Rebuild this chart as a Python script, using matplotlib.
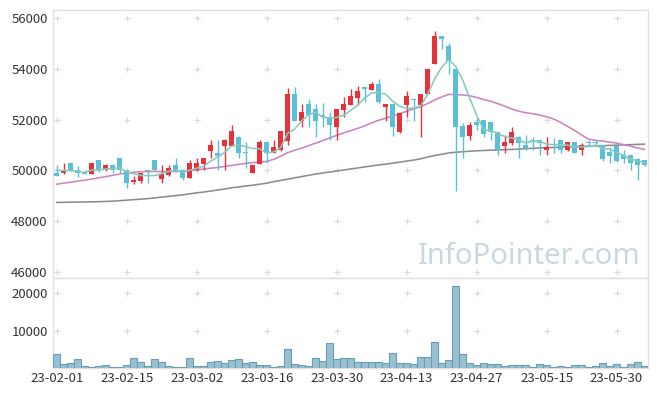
import matplotlib
matplotlib.use("Agg")
import matplotlib.pyplot as plt
import numpy as np

plt.rcParams['font.family'] = ['Noto Sans CJK KR', 'DejaVu Sans']

# ---------------- data ----------------
dates = ["23-02-01","23-02-02","23-02-03","23-02-06","23-02-07","23-02-08","23-02-09","23-02-10",
         "23-02-13","23-02-14","23-02-15","23-02-16","23-02-17","23-02-20","23-02-21","23-02-22",
         "23-02-23","23-02-24","23-02-27","23-02-28","23-03-02","23-03-03","23-03-06","23-03-07",
         "23-03-08","23-03-09","23-03-10","23-03-13","23-03-14","23-03-15","23-03-16","23-03-17",
         "23-03-20","23-03-21","23-03-22","23-03-23","23-03-24","23-03-27","23-03-28","23-03-29",
         "23-03-30","23-03-31","23-04-03","23-04-04","23-04-05","23-04-06","23-04-07","23-04-10",
         "23-04-11","23-04-12","23-04-13","23-04-14","23-04-17","23-04-18","23-04-19","23-04-20",
         "23-04-21","23-04-24","23-04-25","23-04-26","23-04-27","23-04-28","23-05-02","23-05-03",
         "23-05-04","23-05-08","23-05-09","23-05-10","23-05-11","23-05-12","23-05-15","23-05-16",
         "23-05-17","23-05-18","23-05-19","23-05-22","23-05-23","23-05-24","23-05-25","23-05-26",
         "23-05-30","23-05-31","23-06-01","23-06-02","23-06-05"]

opens = [49920, 49900, 50290, 50030, 49960, 49880, 50420, 50000, 50225, 50500,
         50000, 49530, 49590, 50020, 50420, 49670, 49830, 50225, 50030, 49720,
         50000, 50265, 50780, 50690, 50975, 50975, 51340, 50700, 49920, 50265,
         51140, 50690, 50790, 51180, 53030, 51970, 52640, 52430, 52200, 52100,
         51710, 52390, 52590, 52860, 53290, 53180, 53420, 52490, 52630, 51500,
         52590, 52830, 52590, 53030, 54200, 55310, 54920, 54010, 51740, 51380,
         51920, 52000, 51920, 51500, 50975, 51100, 51320, 51010, 51210, 51210,
         50790, 51050, 51210, 50790, 51130, 50790, 51120, 51110, 51000, 50710,
         50950, 50620, 50620, 50450, 50420]
highs = [50220, 50290, 50300, 50160, 50000, 50310, 50430, 50240, 50240, 50510,
         50010, 49800, 49910, 50030, 50430, 50225, 50200, 50490, 50040, 50420,
         50490, 50500, 51210, 51210, 51230, 51800, 51350, 51140, 50230, 51210,
         51150, 51210, 51540, 53250, 53290, 52630, 52830, 52630, 52660, 52290,
         52430, 52880, 53210, 53340, 53290, 53490, 53610, 52640, 52640, 52270,
         53120, 52840, 53030, 54010, 55510, 55310, 55030, 54010, 51890, 51930,
         52070, 52000, 51930, 51500, 51410, 51710, 51370, 51410, 51320, 51220,
         51320, 51280, 51210, 51140, 51140, 51100, 51210, 51200, 51010, 50920,
         50960, 50820, 50630, 50490, 50430]
lows = [49800, 49880, 49990, 49760, 49870, 49870, 49940, 49990, 49900, 49900,
        49300, 49460, 49500, 49500, 49990, 49500, 49800, 49930, 49630, 49710,
        49990, 50030, 50490, 50030, 50030, 50960, 50490, 50100, 49900, 50250,
        50290, 50680, 50780, 51010, 51960, 51710, 51710, 51320, 51710, 51210,
        51210, 52100, 52580, 52590, 52700, 53170, 52680, 51970, 51380, 51490,
        52100, 51970, 51320, 53020, 54190, 54800, 53800, 49190, 50490, 51210,
        51610, 51310, 51210, 50620, 50690, 51010, 50490, 50820, 50820, 50620,
        50620, 50700, 50690, 50780, 50680, 50620, 51000, 51000, 50390, 50310,
        50330, 50290, 50000, 49630, 50190]
closes = [49800, 50030, 50000, 49900, 49880, 50300, 50000, 50225, 50000, 50000,
          49490, 49630, 49900, 49980, 50000, 49870, 50100, 50030, 49720, 50300,
          50300, 50490, 51010, 50580, 51210, 51540, 50690, 50680, 50225, 51140,
          50690, 50940, 51540, 53030, 51970, 52310, 52180, 51970, 52100, 51780,
          52430, 52630, 52920, 53120, 53200, 53420, 52690, 52630, 51700, 52260,
          52920, 52790, 53030, 54010, 55310, 55200, 54330, 51710, 51320, 51790,
          51790, 51450, 51500, 50820, 51120, 51510, 51100, 50880, 51180, 51100,
          50930, 51020, 50820, 51130, 50690, 51000, 51090, 51090, 50470, 50580,
          50390, 50470, 50290, 50200, 50200]
volumes = [3710, 995, 1270, 2350, 450, 180, 450, 720, 180, 180,
           720, 2620, 1540, 450, 2350, 1540, 450, 180, 180, 2620,
           450, 450, 1540, 1810, 1270, 2080, 2350, 1270, 1540, 720,
           720, 180, 450, 5070, 995, 720, 450, 2620, 1810, 6690,
           2350, 2620, 2620, 1540, 1540, 1540, 1540, 1270, 3980, 1270,
           1270, 995, 2890, 2890, 6960, 1270, 2080, 21890, 3710, 1270,
           720, 1270, 995, 995, 450, 720, 720, 720, 180, 995,
           720, 180, 450, 180, 720, 720, 180, 450, 1270, 450,
           995, 180, 995, 1540, 450]
prior_closes = [50100, 50000, 50050, 50100]   # closes before the window (for the 5-day MA)
ma20 = [49460, 49500, 49540, 49580, 49620, 49660, 49710, 49760, 49810, 49860,
        49900, 49930, 49950, 49960, 49960, 49960, 49960, 49960, 49970, 49990,
        50030, 50060, 50090, 50120, 50160, 50200, 50240, 50280, 50310, 50330,
        50360, 50440, 50560, 50700, 50800, 50880, 50980, 51080, 51180, 51280,
        51390, 51480, 51570, 51660, 51760, 51880, 51980, 52060, 52150, 52230,
        52340, 52430, 52520, 52640, 52780, 52900, 53000, 53000, 52980, 52950,
        52880, 52800, 52730, 52640, 52540, 52430, 52340, 52280, 52240, 52190,
        52120, 52030, 51900, 51740, 51580, 51400, 51240, 51190, 51160, 51120,
        51080, 51020, 50960, 50890, 50830]
ma60 = [48740, 48745, 48750, 48755, 48760, 48765, 48770, 48780, 48790, 48810,
        48830, 48850, 48870, 48890, 48920, 48950, 48980, 49010, 49040, 49080,
        49120, 49150, 49190, 49230, 49270, 49320, 49350, 49390, 49420, 49460,
        49500, 49560, 49610, 49660, 49710, 49760, 49810, 49860, 49900, 49940,
        49980, 50020, 50060, 50100, 50140, 50180, 50220, 50250, 50290, 50330,
        50370, 50410, 50460, 50530, 50590, 50640, 50690, 50720, 50740, 50760,
        50775, 50790, 50800, 50810, 50820, 50830, 50845, 50860, 50875, 50890,
        50900, 50910, 50920, 50930, 50940, 50950, 50960, 50970, 50980, 50990,
        51000, 51010, 51020, 51030, 51040]
price_ticks = [46000, 48000, 50000, 52000, 54000, 56000]
volume_ticks = [10000, 20000]
label_step = 10

# ---------------- figure ----------------
UP = '#e8323a'
DOWN = '#5cbfd8'
GRID = '#d9d9d9'
FRAME = '#e0e0e0'
TXT = '#333333'

fig = plt.figure(figsize=(6.57, 3.96), dpi=100)
ax = fig.add_axes([53.3/657, 1-278/396, (648-53.3)/657, (278-10)/396])
axv = fig.add_axes([53.3/657, 1-368/396, (648-53.3)/657, (368-278)/396], sharex=ax)

n = len(dates)
x = np.arange(n)
o = np.array(opens); h = np.array(highs); l = np.array(lows); c = np.array(closes)
up = c >= o
col = np.where(up, UP, DOWN)

# moving averages
allc = np.array(prior_closes + closes, dtype=float)
ma5 = np.convolve(allc, np.ones(5)/5, mode='valid')

ax.plot(x, ma60, color='#8c8c8c', lw=1.15, zorder=2)
ax.plot(x, ma20, color='#c985c0', lw=1.15, zorder=2)

ax.vlines(x, l, h, colors=col, lw=1.0, zorder=3)
body_bottom = np.minimum(o, c)
body_h = np.maximum(np.abs(c - o), 35)
ax.bar(x, body_h, bottom=body_bottom, width=0.72, color=col, edgecolor='none', zorder=4)
ax.plot(x, ma5, color='#84cbbd', lw=1.15, zorder=5)

ax.set_ylim(45760, 56330)
ax.set_xlim(-0.5, n - 0.5)
ax.set_yticks(price_ticks)
ax.set_yticklabels([str(v) for v in price_ticks])

axv.bar(x, volumes, width=1.0, color='#98c0d0', edgecolor='#6a9db3', lw=0.8, zorder=3)
axv.set_ylim(0, 24150)
axv.set_yticks(volume_ticks)
axv.set_yticklabels([str(v) for v in volume_ticks])
xt = list(range(0, n, label_step))
axv.set_xticks(xt)
axv.set_xticklabels([dates[i] for i in xt])

# grid crosses
for a, yt in ((ax, price_ticks), (axv, volume_ticks)):
    XX, YY = np.meshgrid(xt, yt)
    a.scatter(XX.ravel(), YY.ravel(), marker='+', s=18, color=GRID, lw=0.8, zorder=1)
    for s in a.spines.values():
        s.set_color(FRAME)
        s.set_linewidth(1.0)
    a.tick_params(length=0, labelsize=9.5, colors=TXT, pad=4)
plt.setp(ax.get_xticklabels(), visible=False)
axv.tick_params(axis='x', pad=3)

ax.text(0.80, 0.082, 'InfoPointer.com', transform=ax.transAxes, ha='center', va='center',
        fontsize=21, color='#c8d8e3', family=['Noto Sans', 'DejaVu Sans'], zorder=0)

fig.savefig('out.png', dpi=100)
